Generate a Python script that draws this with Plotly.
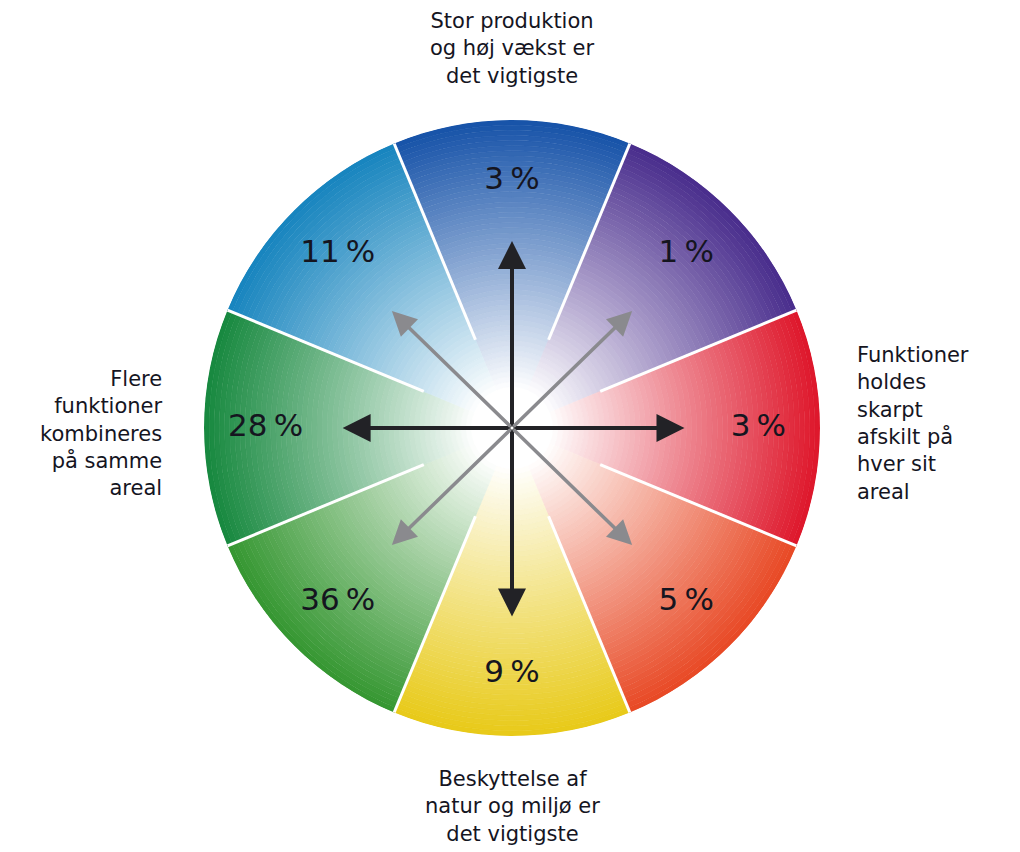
import plotly.graph_objects as go

# ---------------- data ----------------
directions = [0, 45, 90, 135, 180, 225, 270, 315]          # compass angle of each segment (0 = top)
percent_values = [3, 1, 3, 5, 9, 36, 28, 11]               # share of answers per segment
percent_labels = [f"{v}\u2009%" for v in percent_values]
segment_colors = [
    (22, 82, 168),    # top - blue
    (72, 44, 140),    # top-right - purple
    (222, 22, 42),    # right - red
    (232, 72, 36),    # bottom-right - orange red
    (232, 202, 24),   # bottom - yellow
    (52, 150, 48),    # bottom-left - green
    (22, 136, 62),    # left - green
    (22, 132, 190),   # top-left - cyan blue
]
outer_labels = [
    "Stor produktion<br>og høj vækst er<br>det vigtigste",
    "Funktioner<br>holdes<br>skarpt<br>afskilt på<br>hver sit<br>areal",
    "Beskyttelse af<br>natur og miljø er<br>det vigtigste",
    "Flere<br>funktioner<br>kombineres<br>på samme<br>areal",
]

# ---------------- geometry / style ----------------
# the page body has an 8px margin, so the figure is 8px smaller and offset
W, H = 1012, 844
CX, CY, RPX = 504, 420, 308          # circle centre and radius in figure pixels
R = 1.0
N_BANDS = 60
FONT = "DejaVu Sans, Lato, sans-serif"
TXT = "#15151f"

def mix(col, t):
    return "rgb(%d,%d,%d)" % tuple(round(255 + (c - 255) * t) for c in col)

def tval(r):
    x = (r / R - 0.13) / 0.87
    x = max(0.0, min(1.0, x))
    return x ** 0.95

bar_r, bar_base, bar_theta, bar_col = [], [], [], []
dr = R / N_BANDS
for ang, col in zip(directions, segment_colors):
    for i in range(N_BANDS):
        rc = (i + 0.5) * dr
        bar_r.append(dr)
        bar_base.append(i * dr)
        bar_theta.append(ang)
        bar_col.append(mix(col, tval(rc)))

dom_x = [(CX - RPX) / W, (CX + RPX) / W]
dom_y = [(H - CY - RPX) / H, (H - CY + RPX) / H]

fig = go.Figure()
fig.add_trace(go.Barpolar(
    r=bar_r, base=bar_base, theta=bar_theta, width=[45] * len(bar_r),
    marker=dict(color=bar_col, line=dict(color=bar_col, width=0.6)),
    hoverinfo="skip", showlegend=False,
))

# white separators between segments
for ang in directions:
    fig.add_trace(go.Scatterpolar(
        r=[0.31, R], theta=[ang + 22.5, ang + 22.5], mode="lines",
        line=dict(color="white", width=3), hoverinfo="skip", showlegend=False,
    ))

# percentage labels
fig.add_trace(go.Scatterpolar(
    r=[0.8] * len(directions), theta=directions, mode="text",
    text=percent_labels, textfont=dict(family=FONT, size=31, color=TXT),
    hoverinfo="skip", showlegend=False,
))

fig.update_layout(
    width=W, height=H, margin=dict(l=0, r=0, t=0, b=0),
    paper_bgcolor="white", plot_bgcolor="rgba(0,0,0,0)",
    polar=dict(
        domain=dict(x=dom_x, y=dom_y), bgcolor="white", hole=0,
        radialaxis=dict(visible=False, range=[0, R]),
        angularaxis=dict(visible=False, rotation=90, direction="clockwise"),
    ),
    xaxis=dict(domain=dom_x, range=[-R, R], visible=False, fixedrange=True),
    yaxis=dict(domain=dom_y, range=[-R, R], visible=False, fixedrange=True),
)

# arrows (overlay cartesian axes matching the circle)
arrows = [
    (0, 0.607, "#222226", 4),
    (0, -0.612, "#222226", 4),
    (0.56, 0, "#222226", 4),
    (-0.55, 0, "#222226", 4),
    (0.39, 0.38, "#8a8a8e", 3.5),
    (-0.39, 0.38, "#8a8a8e", 3.5),
    (0.39, -0.38, "#8a8a8e", 3.5),
    (-0.39, -0.38, "#8a8a8e", 3.5),
]
for x, y, c, w in arrows:
    fig.add_annotation(x=x, y=y, ax=0, ay=0, xref="x", yref="y", axref="x", ayref="y",
                       text="", showarrow=True, arrowhead=2, arrowsize=1.4,
                       arrowwidth=w, arrowcolor=c, standoff=0, startstandoff=0)

# outer labels
lab_font = dict(family=FONT, size=21, color=TXT)
fig.add_annotation(text=outer_labels[0], x=504 / W, y=1 - 40 / H, xref="paper", yref="paper",
                   xanchor="center", yanchor="middle", showarrow=False, align="center", font=lab_font)
fig.add_annotation(text=outer_labels[1], x=847 / W, y=1 - 415.5 / H, xref="paper", yref="paper",
                   xanchor="left", yanchor="middle", showarrow=False, align="left", font=lab_font)
fig.add_annotation(text=outer_labels[2], x=504 / W, y=1 - 798 / H, xref="paper", yref="paper",
                   xanchor="center", yanchor="middle", showarrow=False, align="center", font=lab_font)
fig.add_annotation(text=outer_labels[3], x=157 / W, y=1 - 425 / H, xref="paper", yref="paper",
                   xanchor="right", yanchor="middle", showarrow=False, align="right", font=lab_font)

fig.write_html("out.html")
